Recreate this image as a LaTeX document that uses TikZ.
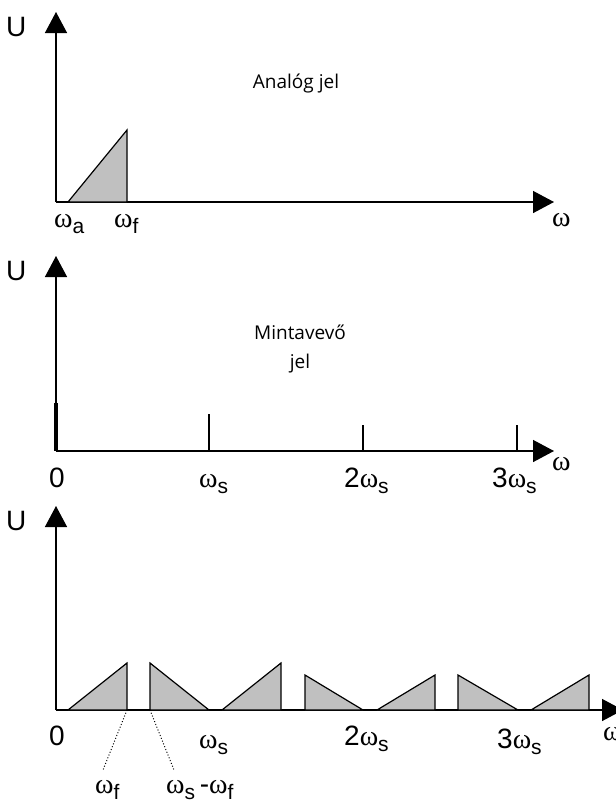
\documentclass[tikz,border=0pt]{standalone}
\usepackage{fontspec}
\setmainfont{Liberation Sans}
\newfontfamily\serifom{Liberation Serif}
\newfontfamily\titlefont{Open Sans}
\usetikzlibrary{arrows.meta}
\definecolor{specgray}{RGB}{192,192,192}
\newcommand\omg{{\serifom\fontsize{28}{28}\selectfont ω}}
\newcommand\wsub[1]{\omg\raisebox{-6pt}{\fontsize{21}{21}\selectfont #1}}
\begin{document}
\begin{tikzpicture}[x=1pt,y=-1pt,
  axis/.style={line width=1.4pt,-{Triangle[length=21pt,width=22pt]}},
  spec/.style={draw,line width=1.2pt,fill=specgray,line join=miter},
  tick/.style={line width=1.2pt},
  lbl/.style={inner sep=0,anchor=base west,font=\fontsize{28}{28}\selectfont},
  ttl/.style={inner sep=0,font=\titlefont\fontsize{19}{29}\selectfont,align=center},
  lead/.style={dotted,line width=1pt}]
\useasboundingbox (0,0) rectangle (616,804);
% ---------- panel 1 ----------
\coordinate (o1) at (56,202);
\coordinate (y1) at (56,12);
\coordinate (x1) at (554,202);
\draw[axis] (o1) -- (y1);
\draw[axis] (o1) -- (x1);
\draw[spec] (68,202) -- (127,130) -- (127,202) -- cycle;
\node[lbl] (u1) at (6,36) {U};
\node[lbl] (w1) at (552,226) {\omg};
\node[lbl] (wa) at (54,227) {\wsub{a}};
\node[lbl] (wf1) at (114,227) {\wsub{f}};
\node[ttl] (t1) at (296,83) {Analóg jel};
% ---------- panel 2 ----------
\coordinate (o2) at (56,451);
\coordinate (y2) at (56,256);
\coordinate (x2) at (554,451);
\draw[axis] (o2) -- (y2);
\draw[axis] (o2) -- (x2);
\draw[line width=4.5pt] (56,403) -- (o2);
\draw[tick] (209,414) -- (209,451);
\draw[tick] (363,425) -- (363,451);
\draw[tick] (517,425) -- (517,451);
\node[lbl] (u2) at (6,280) {U};
\node[lbl] (w2) at (552,470) {\omg};
\node[lbl] (z2) at (49,487) {0};
\node[lbl] (s2) at (199,487) {\wsub{s}};
\node[lbl] (s22) at (344,487) {2\wsub{s}};
\node[lbl] (s32) at (492,487) {3\wsub{s}};
\node[ttl] (t2) at (300,349) {Mintavevő\\jel};
% ---------- panel 3 ----------
\coordinate (o3) at (56,710);
\coordinate (y3) at (56,506);
\coordinate (x3) at (623,710);
\draw[axis] (o3) -- (y3);
\draw[axis] (o3) -- (x3);
\draw[spec] (68,710) -- (127,663) -- (127,710) -- cycle;
\draw[spec] (150,663) -- (150,710) -- (209,710) -- cycle;
\draw[spec] (222,710) -- (281,663) -- (281,710) -- cycle;
\draw[spec] (305,675) -- (305,710) -- (363,710) -- cycle;
\draw[spec] (377,710) -- (435,675) -- (435,710) -- cycle;
\draw[spec] (458,675) -- (458,710) -- (518,710) -- cycle;
\draw[spec] (531,710) -- (589,675) -- (589,710) -- cycle;
\node[lbl] (u3) at (6,530) {U};
\node[lbl] (w3) at (603,740) {\omg};
\node[lbl] (z3) at (49,745) {0};
\node[lbl] (s3) at (199,748) {\wsub{s}};
\node[lbl] (s23) at (344,745) {2\wsub{s}};
\node[lbl] (s33) at (497,748) {3\wsub{s}};
\coordinate (pf) at (127,710);
\coordinate (psf) at (150,710);
\node[lbl] (wf3) at (95,793) {\wsub{f}};
\node[lbl] (wsf) at (166,793) {\wsub{s}\,-\wsub{f}};
\draw[lead] (pf) -- (103,770);
\draw[lead] (psf) -- (174,770);
\end{tikzpicture}
\end{document}
